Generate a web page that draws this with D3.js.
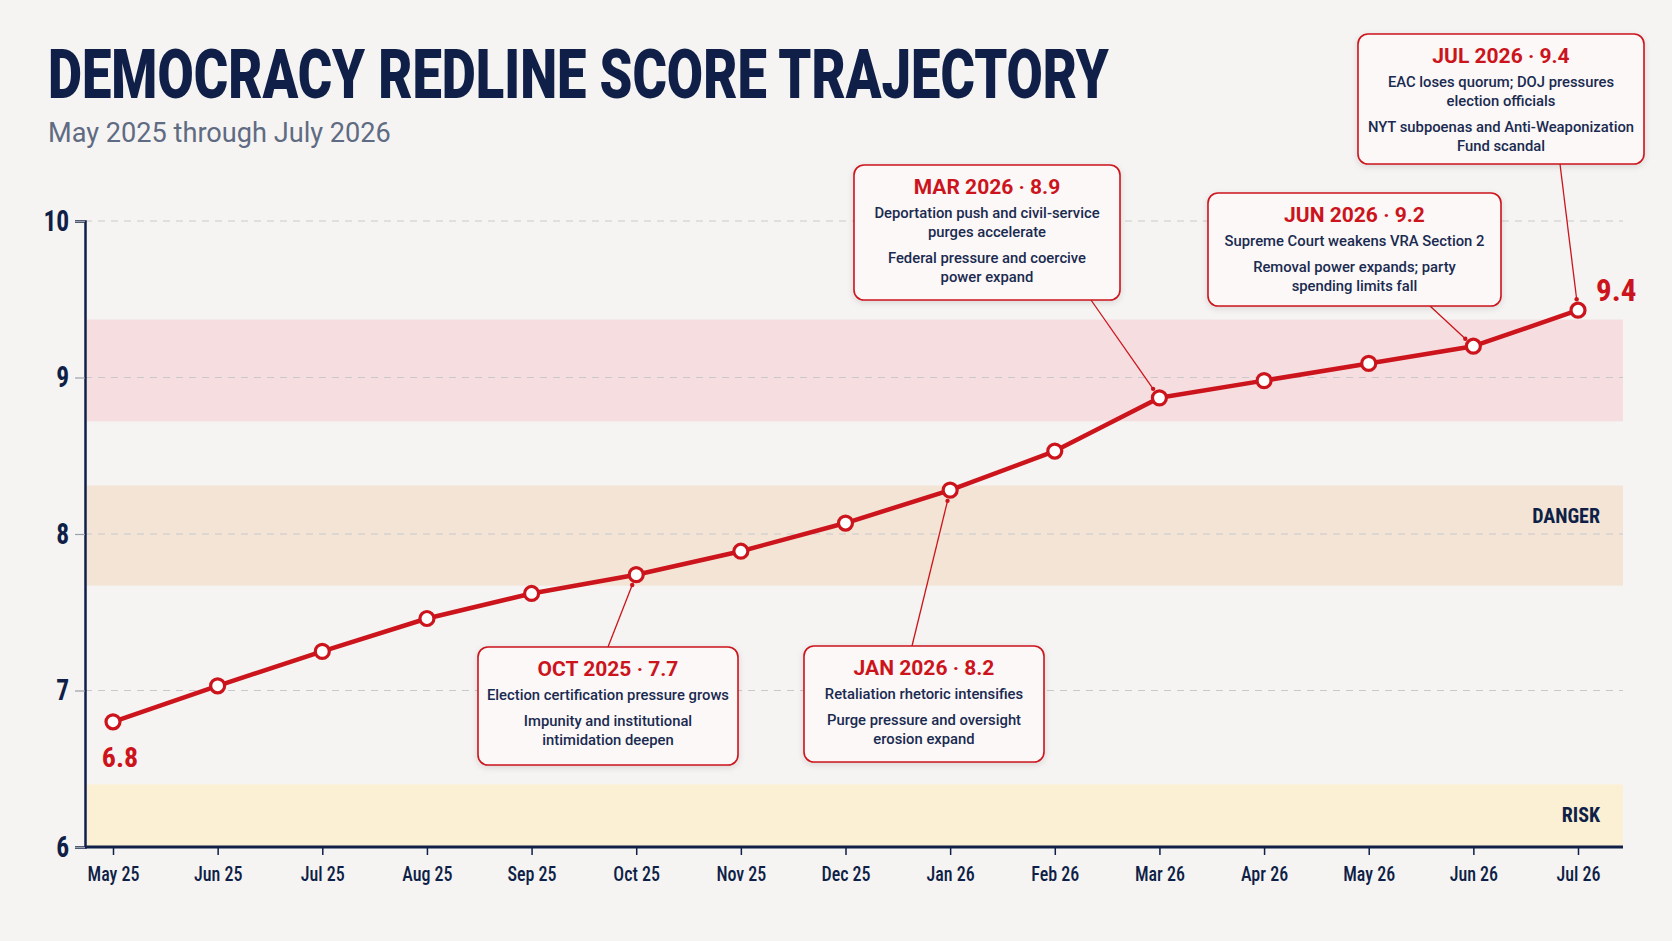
<!DOCTYPE html>
<html>
<head>
<meta charset="utf-8">
<script src="https://cdn.jsdelivr.net/npm/d3@7"></script>
<style>
  html, body { margin: 0; padding: 0; background: #f5f4f2; }
  svg { display: block; }
</style>
</head>
<body>
<svg id="chart" width="1672" height="941"></svg>
<script>
// the data
var months = ["May 25", "Jun 25", "Jul 25", "Aug 25", "Sep 25", "Oct 25", "Nov 25",
              "Dec 25", "Jan 26", "Feb 26", "Mar 26", "Apr 26", "May 26", "Jun 26", "Jul 26"];
var scores = [6.80, 7.03, 7.25, 7.46, 7.62, 7.74, 7.89, 8.07, 8.28, 8.53, 8.87, 8.98, 9.09, 9.20, 9.43];
var yTicks = [6, 7, 8, 9, 10];

// shaded zones
var bandTops = [9.37, 8.31, 6.40];
var bandBottoms = [8.72, 7.67, 6.0];
var bandNames = ["", "DANGER", "RISK"];

// annotated months
var calloutMonths = ["Oct 25", "Jan 26", "Mar 26", "Jun 26", "Jul 26"];
var calloutTitles = ["OCT 2025 · 7.7", "JAN 2026 · 8.2", "MAR 2026 · 8.9", "JUN 2026 · 9.2", "JUL 2026 · 9.4"];
var calloutText = [
  [["Election certification pressure grows"], ["Impunity and institutional", "intimidation deepen"]],
  [["Retaliation rhetoric intensifies"], ["Purge pressure and oversight", "erosion expand"]],
  [["Deportation push and civil-service", "purges accelerate"], ["Federal pressure and coercive", "power expand"]],
  [["Supreme Court weakens VRA Section 2"], ["Removal power expands; party", "spending limits fall"]],
  [["EAC loses quorum; DOJ pressures", "election officials"], ["NYT subpoenas and Anti-Weaponization", "Fund scandal"]]
];

// layout only: box placement + where the connector leaves the box
var calloutBoxes = [
  {x: 478, y: 647, w: 260, h: 118, ax: 130, side: "top"},
  {x: 804, y: 646, w: 240, h: 116, ax: 108, side: "top"},
  {x: 854, y: 165, w: 266, h: 135, ax: 237, side: "bottom"},
  {x: 1208, y: 193, w: 293, h: 113, ax: 222, side: "bottom"},
  {x: 1358, y: 34, w: 286, h: 130, ax: 202, side: "bottom"}
];

var navy = "#0f1f47";
var red = "#cc141c";
var bandColors = ["#f6dde0", "#f3e4d6", "#fbf0d3"];
var condensed = "'Roboto Condensed', 'Liberation Sans Narrow', Roboto, sans-serif";

var svg = d3.select("#chart");
var left = 85, right = 1623;

var x = d3.scalePoint().domain(months).range([113, 1578]);
var y = d3.scaleLinear().domain([6, 10]).range([847, 221]);

// squeeze a text horizontally to a given width (no condensed font available)
function squeeze(sel, x0, width){
  var w = sel.node().getComputedTextLength();
  var k = width / w;
  sel.attr("x", 0).attr("transform", "translate(" + x0 + ",0) scale(" + k + ",1)");
}

// drop shadow for the callout boxes
var defs = svg.append("defs");
var f = defs.append("filter").attr("id", "shadow")
  .attr("x", "-10%").attr("y", "-10%").attr("width", "120%").attr("height", "130%");
f.append("feDropShadow").attr("dx", 0).attr("dy", 2).attr("stdDeviation", 3)
  .attr("flood-color", "#000").attr("flood-opacity", 0.12);

// title block
var title = svg.append("text")
  .attr("y", 98)
  .style("font-family", "Roboto, sans-serif").style("font-weight", 900)
  .style("font-size", "69px").attr("fill", navy)
  .text("DEMOCRACY REDLINE SCORE TRAJECTORY");
squeeze(title, 48, 1061);

var sub = svg.append("text")
  .attr("y", 142)
  .style("font-family", "Roboto, sans-serif").style("font-size", "27px")
  .attr("fill", "#5f6b82")
  .text("May 2025 through July 2026");
squeeze(sub, 48, 343);

// zones
var bands = svg.append("g");
bandTops.forEach(function(top, i){
  bands.append("rect")
    .attr("x", left + 2).attr("width", right - left - 2)
    .attr("y", y(top)).attr("height", y(bandBottoms[i]) - y(top))
    .attr("fill", bandColors[i]);
  if(bandNames[i] != ""){
    bands.append("text")
      .attr("x", 1600).attr("y", y(top) + 38)
      .attr("text-anchor", "end")
      .style("font-family", condensed).style("font-weight", 700).style("font-size", "20px")
      .attr("fill", navy)
      .text(bandNames[i]);
  }
});

// dashed grid lines
svg.append("g").selectAll("line")
  .data(yTicks.slice(1))
  .enter().append("line")
  .attr("x1", left).attr("x2", right)
  .attr("y1", function(d){ return y(d); }).attr("y2", function(d){ return y(d); })
  .attr("stroke", "#c9c9cc").attr("stroke-width", 1.2).attr("stroke-dasharray", "7,6");

// y axis
var yAxis = svg.append("g")
  .attr("transform", "translate(" + left + ",0)")
  .call(d3.axisLeft(y).tickValues(yTicks).tickSize(10).tickPadding(8).tickFormat(d3.format("d")));
yAxis.select(".domain").attr("stroke", navy).attr("stroke-width", 2.5);
yAxis.selectAll(".tick line").attr("stroke", "#9aa0ab").attr("stroke-width", 1.2);
yAxis.selectAll(".tick text")
  .attr("transform", "scale(0.88,1)")
  .style("font-family", condensed).style("font-weight", 700).style("font-size", "29px")
  .attr("fill", navy);

// x axis
var xAxis = svg.append("g")
  .attr("transform", "translate(0," + y(6) + ")")
  .call(d3.axisBottom(x).tickSize(8).tickPadding(12));
xAxis.select(".domain").attr("d", "M" + left + ",0H" + right)
  .attr("stroke", navy).attr("stroke-width", 3);
xAxis.selectAll(".tick line").attr("stroke", navy).attr("stroke-width", 1.5);
xAxis.selectAll(".tick text")
  .attr("transform", "scale(0.9,1)")
  .style("font-family", condensed).style("font-weight", 500).style("font-size", "20px")
  .attr("fill", navy);

// callouts: connector first so the line sits on top
var callouts = svg.append("g");
calloutMonths.forEach(function(m, i){
  var b = calloutBoxes[i];
  var idx = months.indexOf(m);
  var px = x(m), py = y(scores[idx]);
  var sx = b.x + b.ax;
  var sy = b.side == "top" ? b.y : b.y + b.h;
  // stop the connector just outside the marker
  var dx = sx - px, dy = sy - py, len = Math.sqrt(dx * dx + dy * dy);
  var ex = px + dx / len * 11, ey = py + dy / len * 11;
  callouts.append("line")
    .attr("x1", sx).attr("y1", sy).attr("x2", ex).attr("y2", ey)
    .attr("stroke", red).attr("stroke-width", 1.3);
  callouts.append("circle").attr("cx", ex).attr("cy", ey).attr("r", 2.2).attr("fill", red);
});

// the score line
svg.append("path")
  .datum(scores)
  .attr("fill", "none")
  .attr("stroke", red).attr("stroke-width", 4.5)
  .attr("stroke-linejoin", "round")
  .attr("d", d3.line()
    .x(function(d, i){ return x(months[i]); })
    .y(function(d){ return y(d); }));

svg.append("g").selectAll("circle")
  .data(scores)
  .enter().append("circle")
  .attr("cx", function(d, i){ return x(months[i]); })
  .attr("cy", function(d){ return y(d); })
  .attr("r", 7)
  .attr("fill", "#fff").attr("stroke", red).attr("stroke-width", 3.2);

// first and last values
var fmt = d3.format(".1f");
var n = scores.length - 1;
svg.append("text")
  .attr("x", x(months[0]) + 7).attr("y", y(scores[0]) + 45)
  .attr("text-anchor", "middle")
  .style("font-family", condensed).style("font-weight", 700).style("font-size", "28px")
  .attr("fill", red)
  .text(fmt(scores[0]));
svg.append("text")
  .attr("x", x(months[n]) + 18).attr("y", y(scores[n]) - 9)
  .style("font-family", condensed).style("font-weight", 700).style("font-size", "31px")
  .attr("fill", red)
  .text(fmt(scores[n]));

// callout boxes
calloutMonths.forEach(function(m, i){
  var b = calloutBoxes[i];
  var g = callouts.append("g").attr("transform", "translate(" + b.x + "," + b.y + ")");
  g.append("rect")
    .attr("width", b.w).attr("height", b.h).attr("rx", 10)
    .attr("fill", "#fbf8f7").attr("stroke", red).attr("stroke-width", 1.6)
    .attr("filter", "url(#shadow)");
  g.append("text")
    .attr("x", b.w / 2).attr("y", 29)
    .attr("text-anchor", "middle")
    .style("font-family", "Roboto, sans-serif").style("font-weight", 700).style("font-size", "21px")
    .attr("fill", red)
    .text(calloutTitles[i]);
  var yy = 53;
  calloutText[i].forEach(function(group, gi){
    if(gi > 0){ yy += 7; }
    group.forEach(function(line){
      g.append("text")
        .attr("x", b.w / 2).attr("y", yy)
        .attr("text-anchor", "middle")
        .style("font-family", "Roboto, sans-serif").style("font-weight", 500).style("font-size", "14.8px")
        .attr("fill", "#1a2a50")
        .text(line);
      yy += 19;
    });
  });
});
</script>
</body>
</html>
